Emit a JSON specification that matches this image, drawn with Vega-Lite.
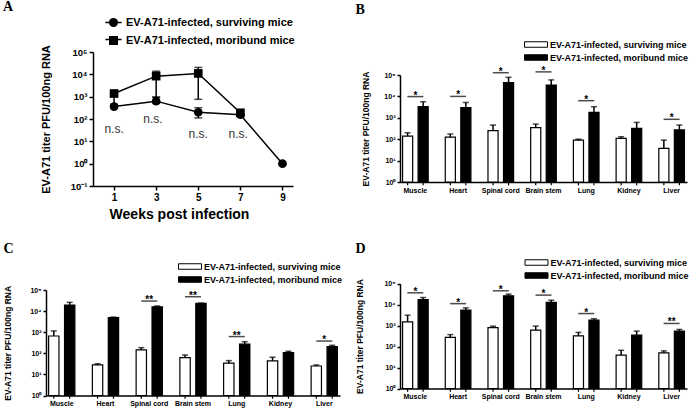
{
  "$schema": "https://vega.github.io/schema/vega-lite/v6.json",
  "width": 696,
  "height": 409,
  "autosize": {"type": "none"},
  "padding": 0,
  "background": "white",
  "config": {
    "font": "Liberation Sans",
    "view": {"stroke": null},
    "axis": {"grid": false, "domainColor": "black", "domainWidth": 1.5, "tickColor": "black", "tickWidth": 1.5, "labelColor": "black", "titleColor": "black", "labelFontWeight": "bold", "titleFontWeight": "bold", "labelFont": "Liberation Sans", "titleFont": "Liberation Sans"},
    "legend": {"labelFontWeight": "bold", "labelColor": "black", "labelFont": "Liberation Sans", "padding": 0, "labelLimit": 0}
  },
  "title": {"text": "A", "anchor": "start", "frame": "group", "dx": 3, "dy": 14, "offset": 0, "font": "Liberation Serif", "fontSize": 14, "fontWeight": "bold", "color": "black"},
  "datasets": {
    "lineA": [
      {"week": 1, "group": "surviving", "value": 360, "lo": 300, "hi": 450},
      {"week": 3, "group": "surviving", "value": 630, "lo": 500, "hi": 950},
      {"week": 5, "group": "surviving", "value": 200, "lo": 112, "hi": 320},
      {"week": 7, "group": "surviving", "value": 155, "lo": 130, "hi": 180},
      {"week": 9, "group": "surviving", "value": 1, "lo": 1, "hi": 1},
      {"week": 1, "group": "moribund", "value": 1380, "lo": 450, "hi": 1900},
      {"week": 3, "group": "moribund", "value": 8300, "lo": 950, "hi": 13800},
      {"week": 5, "group": "moribund", "value": 11000, "lo": 760, "hi": 20400},
      {"week": 7, "group": "moribund", "value": 190, "lo": 160, "hi": 230}
    ],
    "nsA": [
      {"week": 1, "y": 37, "label": "n.s."},
      {"week": 2.85, "y": 105, "label": "n.s."},
      {"week": 5, "y": 22, "label": "n.s."},
      {"week": 6.9, "y": 22, "label": "n.s."}
    ],
    "B": [
      {"organ": "Muscle", "group": "surviving", "value": 140, "err": 200},
      {"organ": "Muscle", "group": "moribund", "value": 3300, "err": 5600},
      {"organ": "Heart", "group": "surviving", "value": 125, "err": 175},
      {"organ": "Heart", "group": "moribund", "value": 3000, "err": 5200},
      {"organ": "Spinal cord", "group": "surviving", "value": 250, "err": 460},
      {"organ": "Spinal cord", "group": "moribund", "value": 44000, "err": 78000},
      {"organ": "Brain stem", "group": "surviving", "value": 350, "err": 510},
      {"organ": "Brain stem", "group": "moribund", "value": 34000, "err": 59000},
      {"organ": "Lung", "group": "surviving", "value": 91, "err": 100},
      {"organ": "Lung", "group": "moribund", "value": 1800, "err": 3300},
      {"organ": "Kidney", "group": "surviving", "value": 110, "err": 130},
      {"organ": "Kidney", "group": "moribund", "value": 320, "err": 610},
      {"organ": "Liver", "group": "surviving", "value": 37, "err": 91},
      {"organ": "Liver", "group": "moribund", "value": 270, "err": 460}
    ],
    "sigB": [
      {"organ": "Muscle", "y": 9800, "label": "*"},
      {"organ": "Heart", "y": 10000, "label": "*"},
      {"organ": "Spinal cord", "y": 128000, "label": "*"},
      {"organ": "Brain stem", "y": 140000, "label": "*"},
      {"organ": "Lung", "y": 6300, "label": "*"},
      {"organ": "Liver", "y": 850, "label": "*"}
    ],
    "C": [
      {"organ": "Muscle", "group": "surviving", "value": 660, "err": 1150},
      {"organ": "Muscle", "group": "moribund", "value": 19500, "err": 26000},
      {"organ": "Heart", "group": "surviving", "value": 28, "err": 32},
      {"organ": "Heart", "group": "moribund", "value": 4900, "err": 5200},
      {"organ": "Spinal cord", "group": "surviving", "value": 145, "err": 185},
      {"organ": "Spinal cord", "group": "moribund", "value": 16000, "err": 17500},
      {"organ": "Brain stem", "group": "surviving", "value": 62, "err": 83},
      {"organ": "Brain stem", "group": "moribund", "value": 23000, "err": 24000},
      {"organ": "Lung", "group": "surviving", "value": 34, "err": 45},
      {"organ": "Lung", "group": "moribund", "value": 270, "err": 355},
      {"organ": "Kidney", "group": "surviving", "value": 44, "err": 65},
      {"organ": "Kidney", "group": "moribund", "value": 107, "err": 125},
      {"organ": "Liver", "group": "surviving", "value": 25, "err": 28},
      {"organ": "Liver", "group": "moribund", "value": 205, "err": 240}
    ],
    "sigC": [
      {"organ": "Spinal cord", "y": 30000, "label": "**"},
      {"organ": "Brain stem", "y": 48000, "label": "**"},
      {"organ": "Lung", "y": 620, "label": "**"},
      {"organ": "Liver", "y": 380, "label": "*"}
    ],
    "D": [
      {"organ": "Muscle", "group": "surviving", "value": 1500, "err": 3100},
      {"organ": "Muscle", "group": "moribund", "value": 17000, "err": 21500},
      {"organ": "Heart", "group": "surviving", "value": 270, "err": 370},
      {"organ": "Heart", "group": "moribund", "value": 5400, "err": 6900},
      {"organ": "Spinal cord", "group": "surviving", "value": 800, "err": 930},
      {"organ": "Spinal cord", "group": "moribund", "value": 26000, "err": 31000},
      {"organ": "Brain stem", "group": "surviving", "value": 600, "err": 940},
      {"organ": "Brain stem", "group": "moribund", "value": 12500, "err": 16000},
      {"organ": "Lung", "group": "surviving", "value": 320, "err": 470},
      {"organ": "Lung", "group": "moribund", "value": 1800, "err": 2100},
      {"organ": "Kidney", "group": "surviving", "value": 39, "err": 66},
      {"organ": "Kidney", "group": "moribund", "value": 350, "err": 540},
      {"organ": "Liver", "group": "surviving", "value": 50, "err": 62},
      {"organ": "Liver", "group": "moribund", "value": 540, "err": 650}
    ],
    "sigD": [
      {"organ": "Muscle", "y": 36000, "label": "*"},
      {"organ": "Heart", "y": 11000, "label": "*"},
      {"organ": "Spinal cord", "y": 45000, "label": "*"},
      {"organ": "Brain stem", "y": 28000, "label": "*"},
      {"organ": "Lung", "y": 3700, "label": "*"},
      {"organ": "Liver", "y": 1250, "label": "**"}
    ]
  },
  "resolve": {
    "scale": {"x": "independent", "y": "independent", "xOffset": "independent", "fill": "independent", "shape": "independent", "stroke": "independent"},
    "axis": {"x": "independent", "y": "independent"},
    "legend": {"fill": "independent", "shape": "independent", "stroke": "independent"}
  },
  "layer": [
    {
      "layer": [
        {
          "data": {"name": "lineA"},
          "mark": {"type": "line", "strokeWidth": 1.5},
          "encoding": {
            "x": {"field": "week", "type": "quantitative", "scale": {"domain": [0, 9.5], "range": [93, 293], "nice": false, "zero": false},
              "axis": {"orient": "bottom", "offset": -223, "values": [1, 3, 5, 7, 9], "format": "d", "title": "Weeks post infection", "titleX": 179, "titleFontSize": 14, "labelFontSize": 10, "tickSize": 4, "labelPadding": 2, "titlePadding": 5}},
            "y": {"field": "value", "type": "quantitative", "scale": {"type": "log", "domain": [0.1, 100000], "range": [186, 52]},
              "axis": {"orient": "left", "offset": -93, "title": "EV-A71 titer PFU/100ng RNA", "titleFontSize": 11, "titlePadding": 19, "values": [0.1, 1, 10, 100, 1000, 10000, 100000],
                "labelExpr": "datum.value < 1 ? '10⁻¹' : '10' + ['⁰','¹','²','³','⁴','⁵'][round(log(datum.value)/LN10)]",
                "labelFontSize": 9.5, "tickSize": 4, "labelPadding": 2}},
            "stroke": {"field": "group", "type": "nominal", "scale": {"domain": ["moribund", "surviving"], "range": ["black", "black"]},
              "legend": {"title": null, "orient": "none", "legendX": 108, "legendY": 17, "symbolType": "M-1.8,0H1.8", "symbolSize": 81, "symbolStrokeWidth": 1.5, "symbolStrokeColor": "black",
                "labelFontSize": 11, "labelOffset": 7, "rowPadding": 5, "labelExpr": "''"}}
          }
        },
        {
          "data": {"name": "lineA"},
          "mark": {"type": "rule", "color": "black", "strokeWidth": 1.5},
          "encoding": {
            "x": {"field": "week", "type": "quantitative"},
            "y": {"field": "lo", "type": "quantitative"},
            "y2": {"field": "hi"}
          }
        },
        {
          "data": {"name": "lineA"},
          "mark": {"type": "tick", "orient": "horizontal", "color": "black", "size": 8, "thickness": 1.5},
          "encoding": {
            "x": {"field": "week", "type": "quantitative"},
            "y": {"field": "hi", "type": "quantitative"}
          }
        },
        {
          "data": {"name": "lineA"},
          "mark": {"type": "tick", "orient": "horizontal", "color": "black", "size": 8, "thickness": 1.5},
          "encoding": {
            "x": {"field": "week", "type": "quantitative"},
            "y": {"field": "lo", "type": "quantitative"}
          }
        },
        {
          "data": {"name": "lineA"},
          "mark": {"type": "point", "filled": true, "color": "black", "opacity": 1, "size": 75},
          "encoding": {
            "x": {"field": "week", "type": "quantitative"},
            "y": {"field": "value", "type": "quantitative"},
            "shape": {"field": "group", "type": "nominal", "scale": {"domain": ["surviving", "moribund"], "range": ["circle", "square"]},
              "legend": {"title": null, "orient": "none", "legendX": 108, "legendY": 17, "symbolSize": 81, "labelFontSize": 11, "labelOffset": 7, "rowPadding": 5,
                "labelExpr": "'EV-A71-infected, ' + datum.label + ' mice'",
                "symbolFillColor": "black", "symbolStrokeColor": "black", "symbolStrokeWidth": 1, "symbolOpacity": 1}}
          }
        },
        {
          "data": {"name": "nsA"},
          "mark": {"type": "text", "fontSize": 12, "color": "#333333", "baseline": "middle"},
          "encoding": {
            "x": {"field": "week", "type": "quantitative"},
            "y": {"field": "y", "type": "quantitative"},
            "text": {"field": "label"}
          }
        }
      ]
    },
    {
      "layer": [
        {
          "data": {"name": "B"},
          "mark": {"type": "bar", "stroke": "black", "strokeWidth": 1.2},
          "encoding": {
            "x": {"field": "organ", "type": "nominal", "sort": ["Muscle", "Heart", "Spinal cord", "Brain stem", "Lung", "Kidney", "Liver"], "scale": {"range": [400, 687], "paddingInner": 0.4, "paddingOuter": 0.06},
              "axis": {"orient": "bottom", "offset": -227, "labelAngle": 0, "labelFontSize": 7, "ticks": false, "labelPadding": 4,
                "title": "B", "titleX": 355, "titleY": -169, "titleAlign": "left", "titleBaseline": "alphabetic", "titleAngle": 0, "titleFont": "Liberation Serif", "titleFontSize": 14}},
            "xOffset": {"field": "group", "sort": ["surviving", "moribund"], "scale": {"paddingInner": 0.35}},
            "y": {"field": "value", "type": "quantitative", "scale": {"type": "log", "domain": [1, 100000], "range": [182, 75]},
              "axis": {"orient": "left", "offset": -400, "title": "EV-A71 titer PFU/100ng RNA", "titleFontSize": 8.5, "titlePadding": 13, "values": [1, 10, 100, 1000, 10000, 100000],
                "labelExpr": "'10' + ['⁰','¹','²','³','⁴','⁵'][round(log(datum.value)/LN10)]", "labelFontSize": 7, "tickSize": 3, "labelPadding": 2}},
            "y2": {"datum": 1},
            "fill": {"field": "group", "type": "nominal", "scale": {"domain": ["surviving", "moribund"], "range": ["white", "black"]},
              "legend": {"title": null, "orient": "none", "legendX": 530.5, "legendY": 39, "symbolType": "M-2.3,-0.55H2.3V0.55H-2.3Z", "symbolSize": 100,
                "symbolStrokeColor": "black", "symbolStrokeWidth": 1, "labelFontSize": 9, "labelOffset": 8.5, "rowPadding": 2,
                "labelExpr": "'EV-A71-infected, ' + datum.label + ' mice'"}}
          }
        },
        {
          "data": {"name": "B"},
          "mark": {"type": "rule", "color": "black", "strokeWidth": 1.2},
          "encoding": {
            "x": {"field": "organ", "type": "nominal", "sort": ["Muscle", "Heart", "Spinal cord", "Brain stem", "Lung", "Kidney", "Liver"]},
            "xOffset": {"field": "group", "sort": ["surviving", "moribund"]},
            "y": {"datum": 1},
            "y2": {"datum": 0.7}
          }
        },
        {
          "data": {"name": "B"},
          "mark": {"type": "rule", "color": "black", "strokeWidth": 1.5},
          "encoding": {
            "x": {"field": "organ", "type": "nominal", "sort": ["Muscle", "Heart", "Spinal cord", "Brain stem", "Lung", "Kidney", "Liver"]},
            "xOffset": {"field": "group", "sort": ["surviving", "moribund"]},
            "y": {"field": "value", "type": "quantitative"},
            "y2": {"field": "err"}
          }
        },
        {
          "data": {"name": "B"},
          "mark": {"type": "tick", "orient": "horizontal", "color": "black", "size": 6, "thickness": 1.5},
          "encoding": {
            "x": {"field": "organ", "type": "nominal", "sort": ["Muscle", "Heart", "Spinal cord", "Brain stem", "Lung", "Kidney", "Liver"]},
            "xOffset": {"field": "group", "sort": ["surviving", "moribund"]},
            "y": {"field": "err", "type": "quantitative"}
          }
        },
        {
          "data": {"name": "sigB"},
          "mark": {"type": "tick", "orient": "horizontal", "color": "black", "size": 16, "thickness": 1.5},
          "encoding": {
            "x": {"field": "organ", "type": "nominal", "sort": ["Muscle", "Heart", "Spinal cord", "Brain stem", "Lung", "Kidney", "Liver"]},
            "y": {"field": "y", "type": "quantitative"}
          }
        },
        {
          "data": {"name": "sigB"},
          "mark": {"type": "text", "fontSize": 10, "fontWeight": "bold", "color": "black", "baseline": "alphabetic", "dy": 2},
          "encoding": {
            "x": {"field": "organ", "type": "nominal", "sort": ["Muscle", "Heart", "Spinal cord", "Brain stem", "Lung", "Kidney", "Liver"]},
            "y": {"field": "y", "type": "quantitative"},
            "text": {"field": "label"}
          }
        }
      ]
    },
    {
      "layer": [
        {
          "data": {"name": "C"},
          "mark": {"type": "bar", "stroke": "black", "strokeWidth": 1.2},
          "encoding": {
            "x": {"field": "organ", "type": "nominal", "sort": ["Muscle", "Heart", "Spinal cord", "Brain stem", "Lung", "Kidney", "Liver"], "scale": {"range": [46, 340], "paddingInner": 0.4, "paddingOuter": 0.06},
              "axis": {"orient": "bottom", "offset": -13.5, "labelAngle": 0, "labelFontSize": 7, "ticks": false, "labelPadding": 4,
                "title": "C", "titleX": 3, "titleY": -143.5, "titleAlign": "left", "titleBaseline": "alphabetic", "titleAngle": 0, "titleFont": "Liberation Serif", "titleFontSize": 14}},
            "xOffset": {"field": "group", "sort": ["surviving", "moribund"], "scale": {"paddingInner": 0.35}},
            "y": {"field": "value", "type": "quantitative", "scale": {"type": "log", "domain": [1, 100000], "range": [395.5, 290]},
              "axis": {"orient": "left", "offset": -46, "title": "EV-A71 titer PFU/100ng RNA", "titleFontSize": 8.5, "titlePadding": 17, "values": [1, 10, 100, 1000, 10000, 100000],
                "labelExpr": "'10' + ['⁰','¹','²','³','⁴','⁵'][round(log(datum.value)/LN10)]", "labelFontSize": 7, "tickSize": 3, "labelPadding": 2}},
            "y2": {"datum": 1},
            "fill": {"field": "group", "type": "nominal", "scale": {"domain": ["surviving", "moribund"], "range": ["white", "black"]},
              "legend": {"title": null, "orient": "none", "legendX": 184.5, "legendY": 261, "symbolType": "M-2.3,-0.55H2.3V0.55H-2.3Z", "symbolSize": 100,
                "symbolStrokeColor": "black", "symbolStrokeWidth": 1, "labelFontSize": 9, "labelOffset": 8.5, "rowPadding": 2,
                "labelExpr": "'EV-A71-infected, ' + datum.label + ' mice'"}}
          }
        },
        {
          "data": {"name": "C"},
          "mark": {"type": "rule", "color": "black", "strokeWidth": 1.2},
          "encoding": {
            "x": {"field": "organ", "type": "nominal", "sort": ["Muscle", "Heart", "Spinal cord", "Brain stem", "Lung", "Kidney", "Liver"]},
            "xOffset": {"field": "group", "sort": ["surviving", "moribund"]},
            "y": {"datum": 1},
            "y2": {"datum": 0.7}
          }
        },
        {
          "data": {"name": "C"},
          "mark": {"type": "rule", "color": "black", "strokeWidth": 1.5},
          "encoding": {
            "x": {"field": "organ", "type": "nominal", "sort": ["Muscle", "Heart", "Spinal cord", "Brain stem", "Lung", "Kidney", "Liver"]},
            "xOffset": {"field": "group", "sort": ["surviving", "moribund"]},
            "y": {"field": "value", "type": "quantitative"},
            "y2": {"field": "err"}
          }
        },
        {
          "data": {"name": "C"},
          "mark": {"type": "tick", "orient": "horizontal", "color": "black", "size": 6, "thickness": 1.5},
          "encoding": {
            "x": {"field": "organ", "type": "nominal", "sort": ["Muscle", "Heart", "Spinal cord", "Brain stem", "Lung", "Kidney", "Liver"]},
            "xOffset": {"field": "group", "sort": ["surviving", "moribund"]},
            "y": {"field": "err", "type": "quantitative"}
          }
        },
        {
          "data": {"name": "sigC"},
          "mark": {"type": "tick", "orient": "horizontal", "color": "black", "size": 16, "thickness": 1.5},
          "encoding": {
            "x": {"field": "organ", "type": "nominal", "sort": ["Muscle", "Heart", "Spinal cord", "Brain stem", "Lung", "Kidney", "Liver"]},
            "y": {"field": "y", "type": "quantitative"}
          }
        },
        {
          "data": {"name": "sigC"},
          "mark": {"type": "text", "fontSize": 10, "fontWeight": "bold", "color": "black", "baseline": "alphabetic", "dy": 2},
          "encoding": {
            "x": {"field": "organ", "type": "nominal", "sort": ["Muscle", "Heart", "Spinal cord", "Brain stem", "Lung", "Kidney", "Liver"]},
            "y": {"field": "y", "type": "quantitative"},
            "text": {"field": "label"}
          }
        }
      ]
    },
    {
      "layer": [
        {
          "data": {"name": "D"},
          "mark": {"type": "bar", "stroke": "black", "strokeWidth": 1.2},
          "encoding": {
            "x": {"field": "organ", "type": "nominal", "sort": ["Muscle", "Heart", "Spinal cord", "Brain stem", "Lung", "Kidney", "Liver"], "scale": {"range": [400, 687], "paddingInner": 0.4, "paddingOuter": 0.06},
              "axis": {"orient": "bottom", "offset": -20.5, "labelAngle": 0, "labelFontSize": 7, "ticks": false, "labelPadding": 4,
                "title": "D", "titleX": 355, "titleY": -136.5, "titleAlign": "left", "titleBaseline": "alphabetic", "titleAngle": 0, "titleFont": "Liberation Serif", "titleFontSize": 14}},
            "xOffset": {"field": "group", "sort": ["surviving", "moribund"], "scale": {"paddingInner": 0.35}},
            "y": {"field": "value", "type": "quantitative", "scale": {"type": "log", "domain": [1, 100000], "range": [388.5, 283.5]},
              "axis": {"orient": "left", "offset": -400, "title": "EV-A71 titer PFU/100ng RNA", "titleFontSize": 8.5, "titlePadding": 19, "values": [1, 10, 100, 1000, 10000, 100000],
                "labelExpr": "'10' + ['⁰','¹','²','³','⁴','⁵'][round(log(datum.value)/LN10)]", "labelFontSize": 7, "tickSize": 3, "labelPadding": 2}},
            "y2": {"datum": 1},
            "fill": {"field": "group", "type": "nominal", "scale": {"domain": ["surviving", "moribund"], "range": ["white", "black"]},
              "legend": {"title": null, "orient": "none", "legendX": 531, "legendY": 257, "symbolType": "M-2.3,-0.55H2.3V0.55H-2.3Z", "symbolSize": 100,
                "symbolStrokeColor": "black", "symbolStrokeWidth": 1, "labelFontSize": 9, "labelOffset": 8.5, "rowPadding": 2,
                "labelExpr": "'EV-A71-infected, ' + datum.label + ' mice'"}}
          }
        },
        {
          "data": {"name": "D"},
          "mark": {"type": "rule", "color": "black", "strokeWidth": 1.2},
          "encoding": {
            "x": {"field": "organ", "type": "nominal", "sort": ["Muscle", "Heart", "Spinal cord", "Brain stem", "Lung", "Kidney", "Liver"]},
            "xOffset": {"field": "group", "sort": ["surviving", "moribund"]},
            "y": {"datum": 1},
            "y2": {"datum": 0.7}
          }
        },
        {
          "data": {"name": "D"},
          "mark": {"type": "rule", "color": "black", "strokeWidth": 1.5},
          "encoding": {
            "x": {"field": "organ", "type": "nominal", "sort": ["Muscle", "Heart", "Spinal cord", "Brain stem", "Lung", "Kidney", "Liver"]},
            "xOffset": {"field": "group", "sort": ["surviving", "moribund"]},
            "y": {"field": "value", "type": "quantitative"},
            "y2": {"field": "err"}
          }
        },
        {
          "data": {"name": "D"},
          "mark": {"type": "tick", "orient": "horizontal", "color": "black", "size": 6, "thickness": 1.5},
          "encoding": {
            "x": {"field": "organ", "type": "nominal", "sort": ["Muscle", "Heart", "Spinal cord", "Brain stem", "Lung", "Kidney", "Liver"]},
            "xOffset": {"field": "group", "sort": ["surviving", "moribund"]},
            "y": {"field": "err", "type": "quantitative"}
          }
        },
        {
          "data": {"name": "sigD"},
          "mark": {"type": "tick", "orient": "horizontal", "color": "black", "size": 16, "thickness": 1.5},
          "encoding": {
            "x": {"field": "organ", "type": "nominal", "sort": ["Muscle", "Heart", "Spinal cord", "Brain stem", "Lung", "Kidney", "Liver"]},
            "y": {"field": "y", "type": "quantitative"}
          }
        },
        {
          "data": {"name": "sigD"},
          "mark": {"type": "text", "fontSize": 10, "fontWeight": "bold", "color": "black", "baseline": "alphabetic", "dy": 2},
          "encoding": {
            "x": {"field": "organ", "type": "nominal", "sort": ["Muscle", "Heart", "Spinal cord", "Brain stem", "Lung", "Kidney", "Liver"]},
            "y": {"field": "y", "type": "quantitative"},
            "text": {"field": "label"}
          }
        }
      ]
    }
  ]
}
